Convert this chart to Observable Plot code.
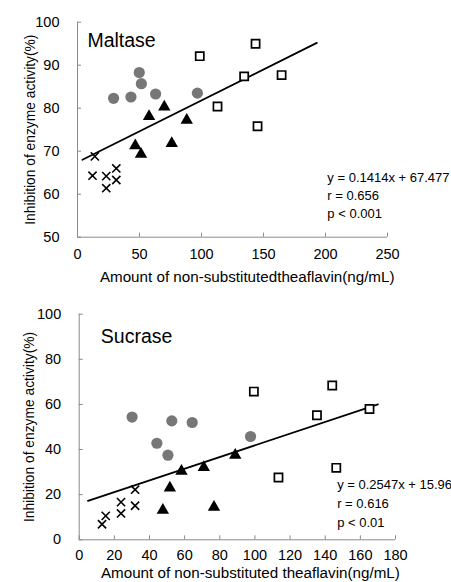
<!DOCTYPE html>
<html>
<head>
<meta charset="utf-8">
<script src="https://cdn.jsdelivr.net/npm/d3@7"></script>
<script src="https://cdn.jsdelivr.net/npm/@observablehq/plot@0.6"></script>
<style>
  html, body { margin: 0; padding: 0; background: #fff; }
  #wrap { width: 451px; }
  #wrap svg { display: block; overflow: hidden; }
</style>
</head>
<body>
<div id="wrap"></div>
<script>
// ---------- Maltase data ----------
const maltaseCircleX = [29.1, 43.1, 49.8, 51.5, 63.0, 96.7];
const maltaseCircleY = [82.3, 82.6, 88.3, 85.7, 83.3, 83.5];
const maltaseTriX = [46.6, 51.2, 57.7, 70.0, 76.0, 88.1];
const maltaseTriY = [71.3, 69.3, 78.1, 80.3, 71.8, 77.2];
const maltaseCrossX = [14.0, 12.1, 23.2, 23.2, 31.3, 31.3];
const maltaseCrossY = [68.8, 64.3, 64.2, 61.4, 66.0, 63.3];
const maltaseSquareX = [98.6, 112.9, 134.4, 143.6, 145.2, 164.6];
const maltaseSquareY = [92.1, 80.4, 87.4, 95.0, 75.8, 87.7];
const maltaseLineX = [4, 193];
const maltaseLineY = [68.0, 95.2];
const maltaseXTicks = [0, 50, 100, 150, 200, 250];
const maltaseYTicks = [50, 60, 70, 80, 90, 100];
const maltaseStats = ["y = 0.1414x + 67.477", "r = 0.656", "p < 0.001"];

// ---------- Sucrase data ----------
const sucraseCircleX = [30.1, 44.2, 50.5, 52.7, 64.3, 97.5];
const sucraseCircleY = [54.4, 42.8, 37.5, 52.7, 52.0, 45.8];
const sucraseTriX = [47.6, 51.6, 58.2, 70.9, 76.7, 88.8];
const sucraseTriY = [13.1, 23.0, 30.4, 32.1, 14.5, 37.5];
const sucraseCrossX = [13.0, 15.1, 23.8, 23.8, 31.8, 31.8];
const sucraseCrossY = [6.9, 10.6, 11.7, 16.7, 22.2, 15.1];
const sucraseSquareX = [99.4, 113.4, 135.3, 144.0, 146.3, 165.2];
const sucraseSquareY = [65.7, 27.6, 55.2, 68.4, 31.9, 58.0];
const sucraseLineX = [5, 170];
const sucraseLineY = [17.3, 60.0];
const sucraseXTicks = [0, 20, 40, 60, 80, 100, 120, 140, 160, 180];
const sucraseYTicks = [0, 20, 40, 60, 80, 100];
const sucraseStats = ["y = 0.2547x + 15.96", "r = 0.616", "p < 0.01"];

const yLabel = "Inhibition of enzyme activity(%)";
const maltaseXLabel = "Amount of non-substitutedtheaflavin(ng/mL)";
const sucraseXLabel = "Amount of non-substituted theaflavin(ng/mL)";

const FONT = "'Liberation Sans', Arial, sans-serif";
const zip = (xs, ys) => xs.map((x, i) => ({x, y: ys[i]}));

function panel(cfg) {
  const [x0, x1] = cfg.xDomain, [y0, y1] = cfg.yDomain;
  const plotH = cfg.height - cfg.mt - cfg.mb;
  const plotW = 451 - cfg.ml - cfg.mr;
  const tickY = 4 * (y1 - y0) / plotH;
  const tickX = 4 * (x1 - x0) / plotW;
  return Plot.plot({
    width: 451,
    height: cfg.height,
    marginLeft: cfg.ml,
    marginRight: cfg.mr,
    marginTop: cfg.mt,
    marginBottom: cfg.mb,
    style: {fontFamily: FONT, fontSize: "14px", color: "#000", background: "#fff", overflow: "hidden"},
    x: {domain: cfg.xDomain},
    y: {domain: cfg.yDomain},
    marks: [
      Plot.axisX({ticks: cfg.xTicks, tickSize: 0, tickPadding: cfg.xPad, label: null, fontSize: 14.5}),
      Plot.axisY({ticks: cfg.yTicks, tickSize: 0, tickPadding: 18, label: null, fontSize: 14.5}),
      Plot.ruleY([y0], {stroke: "#8a8a8a", strokeWidth: 1}),
      Plot.ruleX([x0], {stroke: "#8a8a8a", strokeWidth: 1}),
      Plot.ruleX(cfg.xTicks, {x: d => d, y1: y0, y2: y0 + tickY, stroke: "#8a8a8a"}),
      Plot.ruleY(cfg.yTicks, {y: d => d, x1: x0, x2: x0 + tickX, stroke: "#8a8a8a"}),
      Plot.line(zip(cfg.lineX, cfg.lineY), {x: "x", y: "y", stroke: "#000", strokeWidth: 1.8}),
      Plot.dot(zip(cfg.circleX, cfg.circleY), {x: "x", y: "y", r: 5.6, fill: "#777", stroke: "none"}),
      Plot.dot(zip(cfg.triX, cfg.triY), {x: "x", y: "y", symbol: "triangle", r: 4.6, fill: "#000", stroke: "none"}),
      Plot.dot(zip(cfg.crossX, cfg.crossY), {x: "x", y: "y", symbol: "times", r: 3.8, stroke: "#000", strokeWidth: 1.6}),
      Plot.dot(zip(cfg.squareX, cfg.squareY), {x: "x", y: "y", symbol: "square", r: 4.6, fill: "#fff", stroke: "#000", strokeWidth: 1.7}),
      Plot.text([cfg.title], {x: cfg.titleX, y: cfg.titleY, text: d => d, textAnchor: "start", fontSize: 19.5, fill: "#000"}),
      Plot.text(cfg.stats, {x: cfg.statX, y: cfg.statY, text: d => d, textAnchor: "start", fontSize: 13, fill: "#000"}),
      Plot.text([yLabel], {frameAnchor: "left", dx: cfg.yLabDx, rotate: -90, text: d => d, textAnchor: "middle", fontSize: 13.8, fill: "#000"}),
      Plot.text([cfg.xLabel], {frameAnchor: "bottom", dx: cfg.xLabDx, dy: cfg.xLabDy, text: d => d, textAnchor: "middle", fontSize: 15.2, fill: "#000"})
    ]
  });
}

const maltasePlot = panel({
  height: 291, ml: 77, mr: 64, mt: 21.7, mb: 54.3,
  xDomain: [0, 250], yDomain: [50, 100],
  xTicks: maltaseXTicks, yTicks: maltaseYTicks, xPad: 12,
  circleX: maltaseCircleX, circleY: maltaseCircleY,
  triX: maltaseTriX, triY: maltaseTriY,
  crossX: maltaseCrossX, crossY: maltaseCrossY,
  squareX: maltaseSquareX, squareY: maltaseSquareY,
  lineX: maltaseLineX, lineY: maltaseLineY,
  title: "Maltase", titleX: 8, titleY: 95.7,
  stats: maltaseStats, statX: 201.5, statY: [63.9, 59.7, 55.5],
  xLabel: maltaseXLabel, xLabDx: 14.7, xLabDy: 44.5, yLabDx: -47
});

const sucrasePlot = panel({
  height: 291, ml: 78.7, mr: 56, mt: 22.7, mb: 42.7,
  xDomain: [0, 180], yDomain: [0, 100],
  xTicks: sucraseXTicks, yTicks: sucraseYTicks, xPad: 10,
  circleX: sucraseCircleX, circleY: sucraseCircleY,
  triX: sucraseTriX, triY: sucraseTriY,
  crossX: sucraseCrossX, crossY: sucraseCrossY,
  squareX: sucraseSquareX, squareY: sucraseSquareY,
  lineX: sucraseLineX, lineY: sucraseLineY,
  title: "Sucrase", titleX: 12.3, titleY: 90,
  stats: sucraseStats, statX: 146.8, statY: [24.5, 16.1, 7.7],
  xLabel: sucraseXLabel, xLabDx: 13, xLabDy: 38.5, yLabDx: -49.7
});

document.getElementById("wrap").append(maltasePlot, sucrasePlot);
</script>
</body>
</html>
